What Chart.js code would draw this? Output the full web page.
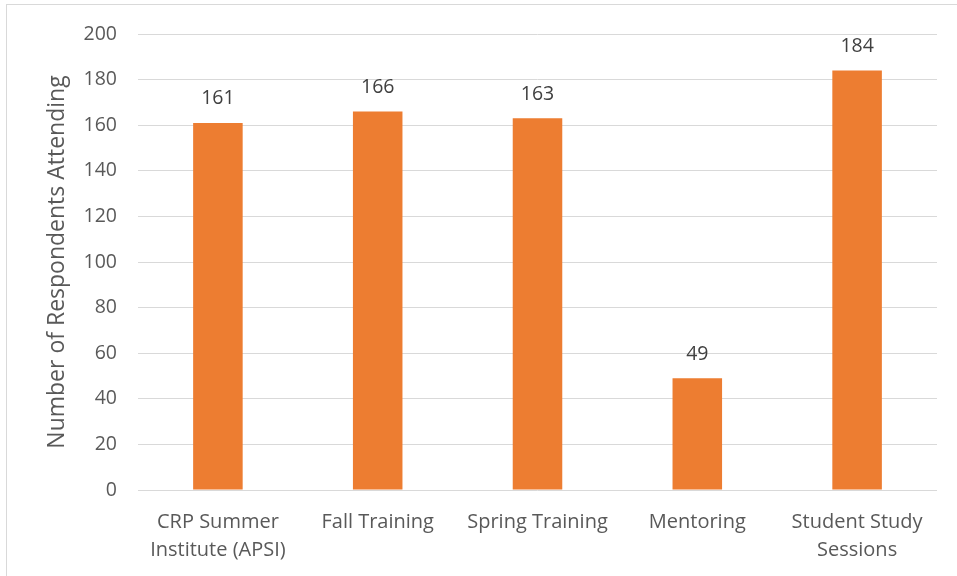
<!DOCTYPE html>
<html>
<head>
<meta charset="utf-8">
<script src="https://cdn.jsdelivr.net/npm/chart.js@4/dist/chart.umd.min.js"></script>
<style>
    html, body { margin: 0; padding: 0; background: #fff; overflow: hidden; }
    #frame { position: absolute; left: 6px; top: 4px; width: 1200px; height: 1200px; border: 1px solid #d9d9d9; }
    #wrap { position: absolute; left: 0; top: 0; width: 957px; height: 576px; }
</style>
</head>
<body>
<div id="frame"></div>
<div id="wrap"><canvas id="attendanceChart" width="957" height="576"></canvas></div>
<script>
const categories = [
    ["CRP Summer", "Institute (APSI)"],
    "Fall Training",
    "Spring Training",
    "Mentoring",
    ["Student Study", "Sessions"]
];
const respondents = [161, 166, 163, 49, 184];
const yTicks = [0, 20, 40, 60, 80, 100, 120, 140, 160, 180, 200];

// draws the number above each bar
const valueLabels = {
    id: "valueLabels",
    afterDatasetsDraw(chart) {
        const ctx = chart.ctx;
        const meta = chart.getDatasetMeta(0);
        ctx.save();
        ctx.font = "19.5px 'Open Sans'";
        ctx.fillStyle = "#404040";
        ctx.textAlign = "center";
        ctx.textBaseline = "middle";
        meta.data.forEach((bar, i) => {
            ctx.fillText(respondents[i], bar.x, bar.y - 24);
        });
        ctx.restore();
    }
};

const ctx = document.getElementById("attendanceChart").getContext("2d");
new Chart(ctx, {
    type: "bar",
    data: {
        labels: categories,
        datasets: [{
            label: "Respondents",
            data: respondents,
            backgroundColor: "#ED7D31",
            barPercentage: 0.62,
            categoryPercentage: 0.5
        }]
    },
    options: {
        responsive: false,
        animation: false,
        layout: { padding: { left: 36, top: 34, right: 20, bottom: 0 } },
        plugins: {
            legend: { display: false },
            tooltip: { enabled: false }
        },
        scales: {
            x: {
                grid: { display: false },
                border: { display: false },
                ticks: {
                    color: "#595959",
                    font: { family: "'Open Sans'", size: 20, lineHeight: 1.4 },
                    padding: 10,
                    maxRotation: 0,
                    autoSkip: false
                },
                afterFit(scale) { scale.height = 86; }
            },
            y: {
                min: 0,
                max: 200,
                afterBuildTicks(scale) { scale.ticks = yTicks.map(v => ({ value: v })); },
                grid: { color: "#d9d9d9", lineWidth: 1, drawTicks: false },
                border: { display: false },
                ticks: {
                    color: "#595959",
                    font: { family: "'Open Sans'", size: 19.5 },
                    padding: 21
                },
                title: {
                    display: true,
                    text: "Number of Respondents Attending",
                    color: "#595959",
                    font: { family: "'Open Sans'", size: 23 },
                    padding: { top: 8, bottom: 0 }
                },
                afterFit(scale) { scale.width = 102; }
            }
        }
    },
    plugins: [valueLabels]
});
</script>
</body>
</html>
